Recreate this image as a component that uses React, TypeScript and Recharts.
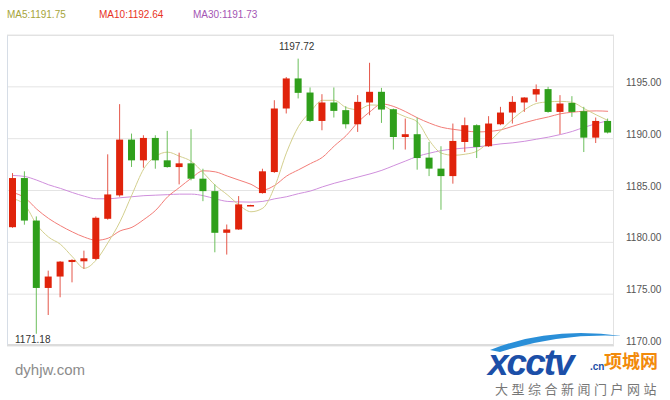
import React from 'react';
import { ComposedChart, Bar, Line, XAxis, YAxis, CartesianGrid, ReferenceDot } from 'recharts';

// K-line values, one entry per candle
const opens = [
  1181.46, 1186.2, 1182.1, 1175.6, 1176.7, 1178.1, 1178.17, 1178.4, 1182.27, 1184.53,
  1189.91, 1187.91, 1190.07, 1187.91, 1187.26, 1187.62, 1186.14, 1184.94, 1180.92, 1181.24,
  1183.52, 1184.75, 1186.78, 1192.91, 1195.81, 1194.45, 1191.71, 1193.49, 1192.75, 1191.39,
  1193.49, 1194.52, 1192.84, 1190.16, 1190.43, 1188.17, 1187.11, 1186.39, 1189.68, 1191.3,
  1189.27, 1191.39, 1192.52, 1193.49, 1194.26, 1194.78, 1192.58, 1193.45, 1192.65, 1190.1,
  1191.71,
];
const highs = [
  1186.68, 1186.85, 1182.5, 1177.27, 1178.2, 1178.37, 1179.2, 1182.5, 1188.49, 1193.33,
  1190.49, 1190.33, 1190.33, 1190.75, 1188.65, 1190.91, 1187.1, 1185.59, 1181.72, 1184.46,
  1183.62, 1187.1, 1193.71, 1195.95, 1197.72, 1194.94, 1194.29, 1194.94, 1193.13, 1194.2,
  1197.32, 1194.9, 1192.9, 1191.94, 1192.04, 1189.68, 1189.27, 1191.46, 1192.04, 1191.39,
  1192.17, 1193.07, 1194.1, 1194.0, 1195.23, 1195.0, 1194.2, 1194.1, 1193.07, 1192.04,
  1191.94,
];
const lows = [
  1181.4, 1181.7, 1171.18, 1172.99, 1174.7, 1176.14, 1177.44, 1178.3, 1182.18, 1184.4,
  1187.27, 1187.2, 1187.1, 1187.2, 1185.59, 1185.98, 1183.97, 1179.04, 1178.82, 1181.2,
  1183.5, 1184.7, 1186.7, 1192.43, 1193.88, 1191.6, 1190.81, 1192.04, 1190.98, 1190.65,
  1192.26, 1191.52, 1188.95, 1188.95, 1187.01, 1186.39, 1183.14, 1185.66, 1188.71, 1188.13,
  1189.2, 1191.3, 1191.46, 1192.58, 1193.55, 1192.5, 1190.43, 1192.1, 1188.71, 1189.58,
  1190.5,
];
const closes = [
  1186.2, 1182.1, 1175.6, 1176.7, 1178.14, 1178.3, 1178.46, 1182.37, 1184.62, 1189.91,
  1187.91, 1190.07, 1187.91, 1187.26, 1187.62, 1186.14, 1184.94, 1180.92, 1181.24, 1183.66,
  1183.6, 1186.85, 1192.91, 1195.81, 1194.42, 1191.71, 1193.49, 1192.68, 1191.39, 1193.55,
  1194.52, 1192.81, 1190.16, 1190.43, 1188.13, 1187.11, 1186.39, 1189.78, 1191.3, 1189.2,
  1191.46, 1192.52, 1193.55, 1193.97, 1194.78, 1192.58, 1193.39, 1192.58, 1190.1, 1191.71,
  1190.59,
];

// moving averages as drawn in the picture
const ma5 = [
  1184.2, 1183.6, 1181.7, 1180.5, 1179.8, 1178.6, 1177.5, 1178.3, 1180.0, 1182.0,
  1184.6, 1187.1, 1188.3, 1188.7, 1188.3, 1187.8, 1186.7, 1185.5, 1184.6, 1183.6,
  1182.95, 1183.3, 1185.4, 1188.7, 1191.2, 1192.6, 1193.7, 1193.7, 1193.0, 1192.8,
  1193.25, 1193.2, 1192.6, 1192.1, 1191.6, 1189.8, 1188.6, 1188.4, 1188.5, 1188.8,
  1189.7, 1190.8, 1191.9, 1192.8, 1193.4, 1193.55, 1193.6, 1193.5, 1192.9, 1192.3,
  1191.75,
];
const ma10 = [
  1184.8, 1184.3, 1183.2, 1182.3, 1181.6, 1181.0, 1180.5, 1180.2, 1180.4, 1181.1,
  1181.45, 1182.2, 1183.1, 1184.4, 1185.3, 1186.2, 1186.9, 1186.8, 1186.4, 1186.0,
  1185.6, 1185.05, 1185.5, 1186.4, 1187.0, 1187.6, 1188.2, 1189.3, 1190.3, 1191.6,
  1192.6, 1193.35, 1193.1, 1192.6, 1192.0, 1191.5, 1191.1, 1190.9, 1190.75, 1190.65,
  1190.7, 1190.85, 1191.2, 1191.55, 1191.85, 1192.1, 1192.4, 1192.55, 1192.65, 1192.68,
  1192.64,
];
const ma30 = [
  1186.45, 1186.35, 1186.0, 1185.55, 1185.2, 1184.8, 1184.45, 1184.2, 1184.2, 1184.3,
  1184.4, 1184.5, 1184.55, 1184.6, 1184.65, 1184.65, 1184.5, 1184.2, 1183.95, 1183.9,
  1183.88, 1183.95, 1184.2, 1184.4, 1184.7, 1184.95, 1185.35, 1185.7, 1186.0, 1186.3,
  1186.6, 1186.95, 1187.4, 1187.85, 1188.3, 1188.6, 1188.85, 1189.0, 1189.1, 1189.2,
  1189.35, 1189.5, 1189.6, 1189.75, 1189.95, 1190.15, 1190.4, 1190.7, 1191.1, 1191.45,
  1191.73,
];

const priceTicks = [1170, 1175, 1180, 1185, 1190, 1195];
const maLegend = [
  { name: 'MA5', value: '1191.75', color: '#a6a43a', left: 7 },
  { name: 'MA10', value: '1192.64', color: '#e8321e', left: 99 },
  { name: 'MA30', value: '1191.73', color: '#a455b4', left: 193 },
];

const FONT = '"Liberation Sans", Arial, sans-serif';
const CJK = '"Noto Sans CJK SC", sans-serif';
const UP = '#e0230b';
const UP_WICK = '#e5574a';
const DOWN = '#2f9f1b';
const DOWN_WICK = '#6cbf5c';

const data = opens.map((open, i) => ({
  k: i + 1,
  open,
  high: highs[i],
  low: lows[i],
  close: closes[i],
  range: [lows[i], highs[i]],
  ma5: ma5[i],
  ma10: ma10[i],
  ma30: ma30[i],
}));

const Candle = (props: any) => {
  const { x, y, width, height, payload } = props;
  if (!payload) return null;
  const { open, close, high, low } = payload;
  const rising = close >= open;
  const top = Math.min(y, y + height);
  const h = Math.abs(height);
  const perUnit = high > low ? h / (high - low) : 0;
  const toY = (v: number) => top + (high - v) * perUnit;
  const bodyTop = toY(Math.max(open, close));
  const bodyBottom = toY(Math.min(open, close));
  const mid = x + width / 2;
  return (
    <g>
      <line x1={mid} x2={mid} y1={top} y2={top + h} stroke={rising ? UP_WICK : DOWN_WICK} strokeWidth={1} />
      <rect
        x={x}
        y={bodyTop}
        width={width}
        height={Math.max(bodyBottom - bodyTop, 1.5)}
        fill={rising ? UP : DOWN}
      />
    </g>
  );
};

const PriceTick = (props: any) => {
  const { x, y, payload } = props;
  return (
    <text x={x + 4} y={y - 1} fontSize={10} fill="#555" fontFamily={FONT} textAnchor="start">
      {Number(payload.value).toFixed(2)}
    </text>
  );
};

const HighLabel = (props: any) => {
  const { viewBox } = props;
  const cx = viewBox.x + (viewBox.width || 0) / 2;
  return (
    <text x={cx - 2} y={viewBox.y - 8} fontSize={10} fill="#333" fontFamily={FONT} textAnchor="middle">
      1197.72
    </text>
  );
};

const LowLabel = (props: any) => {
  const { viewBox } = props;
  const cx = viewBox.x + (viewBox.width || 0) / 2;
  return (
    <text x={cx - 4} y={viewBox.y + 10} fontSize={10} fill="#333" fontFamily={FONT} textAnchor="middle">
      1171.18
    </text>
  );
};

export default function App() {
  return (
    <div style={{ position: 'absolute', left: 0, top: 0, width: 670, height: 400, background: '#fff', overflow: 'hidden' }}>
      {maLegend.map((m) => (
        <div
          key={m.name}
          style={{ position: 'absolute', left: m.left, top: 9, fontSize: 10, fontFamily: FONT, color: m.color, whiteSpace: 'nowrap' }}
        >
          {m.name}:{m.value}
        </div>
      ))}

      <ComposedChart
        width={670}
        height={400}
        data={data}
        margin={{ top: 35, right: 0, bottom: 54, left: 7 }}
        barCategoryGap={0}
      >
        <CartesianGrid vertical={false} stroke="#e4e4e4" />
        <XAxis dataKey="k" hide />
        <YAxis
          orientation="right"
          width={56}
          domain={[1170, 1200]}
          ticks={priceTicks}
          allowDataOverflow
          axisLine={false}
          tickLine={false}
          tick={<PriceTick />}
        />
        <Line type="monotone" dataKey="ma30" stroke="#cf8fdc" strokeWidth={1} dot={false} isAnimationActive={false} />
        <Line type="monotone" dataKey="ma10" stroke="#f27d78" strokeWidth={1} dot={false} isAnimationActive={false} />
        <Line type="monotone" dataKey="ma5" stroke="#d3cf8e" strokeWidth={1} dot={false} isAnimationActive={false} />
        <Bar dataKey="range" barSize={7} shape={<Candle />} isAnimationActive={false} zIndex={500} />
        <ReferenceDot x={25} y={1197.72} r={1} fill="none" stroke="none" label={<HighLabel />} />
        <ReferenceDot x={3} y={1171.18} r={1} fill="none" stroke="none" label={<LowLabel />} />
      </ComposedChart>

      {/* plot frame */}
      <div
        style={{
          position: 'absolute',
          left: 7,
          top: 35,
          width: 607,
          height: 311,
          boxSizing: 'border-box',
          borderTop: '1px solid #e2e2e2',
          borderLeft: '1px solid #d6dde6',
          borderRight: '1px solid #e2e2e2',
          borderBottom: '2px solid #dcdcdc',
          pointerEvents: 'none',
        }}
      />

      <div style={{ position: 'absolute', left: 15, top: 361, fontSize: 15, fontFamily: FONT, color: '#8c8c8c' }}>
        dyhjw.com
      </div>

      {/* site watermark */}
      <svg width={200} height={80} style={{ position: 'absolute', left: 480, top: 322 }}>
        <path d="M10 28 Q70 4 142 14 Q80 11 20 30 Z" fill="#2a8fd8" />
        <text x={8} y={53} fontSize={37} fontWeight="bold" fontStyle="italic" fill="#1c4fa8" fontFamily={FONT} letterSpacing={-2}>
          xcctv
        </text>
        <text x={110} y={48} fontSize={10} fontWeight="bold" fill="#1c4fa8" fontFamily={FONT}>.cn</text>
        <text x={124} y={46} fontSize={18} fontWeight="bold" fill="#f28a0a" fontFamily={CJK}>
          项城网
        </text>
        <text x={15} y={72} fontSize={13} fill="#777" fontFamily={CJK} letterSpacing={3.5}>
          大型综合新闻门户网站
        </text>
      </svg>
    </div>
  );
}
